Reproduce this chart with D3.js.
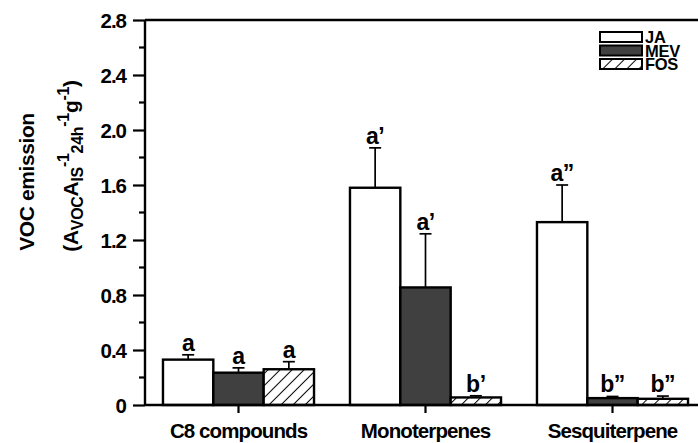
<!DOCTYPE html>
<html>
<head>
<meta charset="utf-8">
<script src="https://cdn.jsdelivr.net/npm/d3@7"></script>
<style>
  html, body { margin: 0; padding: 0; background: #fff; }
  svg { display: block; }
  text { font-family: "Liberation Sans", Arial, sans-serif; font-weight: bold; fill: #000; }
</style>
</head>
<body>
<svg id="chart" width="698" height="443"></svg>
<script>
// Emission groups and treatments
const categories = ["C8 compounds", "Monoterpenes", "Sesquiterpene"];
const treatments = ["JA", "MEV", "FOS"];

// Mean emission per treatment (one value per group)
const jaValues  = [0.33, 1.58, 1.33];
const mevValues = [0.235, 0.855, 0.05];
const fosValues = [0.26, 0.055, 0.045];

// Standard errors (upper half only is drawn)
const jaErrors  = [0.035, 0.29, 0.27];
const mevErrors = [0.035, 0.39, 0.012];
const fosErrors = [0.055, 0.012, 0.02];

// Significance letters
const jaLetters  = ["a", "a\u2019", "a\u201D"];
const mevLetters = ["a", "a\u2019", "b\u201D"];
const fosLetters = ["a", "b\u2019", "b\u201D"];

// Y axis ticks
const yTicks = [0, 0.4, 0.8, 1.2, 1.6, 2.0, 2.4, 2.8];
const yTickLabels = ["0", "0.4", "0.8", "1.2", "1.6", "2.0", "2.4", "2.8"];
const yMinorTicks = [0.2, 0.6, 1.0, 1.4, 1.8, 2.2, 2.6];

const valuesBy  = { JA: jaValues, MEV: mevValues, FOS: fosValues };
const errorsBy  = { JA: jaErrors, MEV: mevErrors, FOS: fosErrors };
const lettersBy = { JA: jaLetters, MEV: mevLetters, FOS: fosLetters };

const rows = [];
categories.forEach((c, i) => {
  treatments.forEach(t => {
    rows.push({ cat: c, trt: t, v: valuesBy[t][i], e: errorsBy[t][i], lab: lettersBy[t][i] });
  });
});

const svg = d3.select("#chart");
const plotLeft = 145, plotTop = 20, plotBottom = 405, plotRight = 706;

const y = d3.scaleLinear().domain([0, 2.8]).range([plotBottom, plotTop]);
const x0 = d3.scaleBand().domain(categories).range([plotLeft, plotRight]).padding(0);
const x1 = d3.scaleBand().domain(treatments).range([0, x0.bandwidth()])
  .paddingInner(0).paddingOuter(0.357);

// Hatch pattern for FOS
const defs = svg.append("defs");
const pat = defs.append("pattern")
  .attr("id", "hatch").attr("patternUnits", "userSpaceOnUse")
  .attr("width", 8.5).attr("height", 8.5)
  .attr("patternTransform", "rotate(45)");
pat.append("rect").attr("width", 8.5).attr("height", 8.5).attr("fill", "#fff");
pat.append("line").attr("x1", 0).attr("y1", 0).attr("x2", 0).attr("y2", 8.5)
  .attr("stroke", "#000").attr("stroke-width", 2);

const fillOf = { JA: "#ffffff", MEV: "#404040", FOS: "url(#hatch)" };

// Bars
const g = svg.append("g");
g.selectAll("rect.bar").data(rows).join("rect")
  .attr("class", "bar")
  .attr("x", d => x0(d.cat) + x1(d.trt))
  .attr("y", d => y(d.v))
  .attr("width", x1.bandwidth())
  .attr("height", d => y(0) - y(d.v))
  .attr("fill", d => fillOf[d.trt])
  .attr("stroke", "#000").attr("stroke-width", 2.4);

// Error bars
const cx = d => x0(d.cat) + x1(d.trt) + x1.bandwidth() / 2;
g.selectAll("line.err").data(rows).join("line")
  .attr("class", "err")
  .attr("x1", cx).attr("x2", cx)
  .attr("y1", d => y(d.v)).attr("y2", d => y(d.v + d.e))
  .attr("stroke", "#000").attr("stroke-width", 1.7);
g.selectAll("line.cap").data(rows).join("line")
  .attr("class", "cap")
  .attr("x1", d => cx(d) - 6).attr("x2", d => cx(d) + 6)
  .attr("y1", d => y(d.v + d.e)).attr("y2", d => y(d.v + d.e))
  .attr("stroke", "#000").attr("stroke-width", 1.7);

// Significance letters
g.selectAll("text.sig").data(rows).join("text")
  .attr("class", "sig")
  .attr("text-anchor", "middle")
  .attr("font-size", 23)
  .attr("letter-spacing", -0.5)
  .attr("x", cx)
  .attr("y", d => y(d.v + d.e) - 4)
  .text(d => d.lab);

// Y axis
const yAxis = d3.axisLeft(y).tickValues(yTicks).tickSize(12)
  .tickFormat((d, i) => yTickLabels[i]).tickPadding(7);
const ya = svg.append("g").attr("transform", `translate(${plotLeft},0)`).call(yAxis);
ya.select(".domain").attr("stroke-width", 2.4).attr("d", `M0,${plotBottom}V${plotTop}`);
ya.selectAll(".tick line").attr("stroke-width", 2.2);
ya.selectAll(".tick text")
  .attr("font-size", 20.5)
  .attr("letter-spacing", -1)
  .attr("font-family", "Liberation Sans, Arial, sans-serif")
  .attr("font-weight", "bold")
  .attr("dy", "0.36em");
ya.selectAll(".minor").data(yMinorTicks).join("line")
  .attr("class", "minor")
  .attr("x1", -6).attr("x2", 0)
  .attr("y1", d => y(d)).attr("y2", d => y(d))
  .attr("stroke", "#000").attr("stroke-width", 2.2);

// X axis
const xAxis = d3.axisBottom(x0).tickSize(8).tickPadding(10);
const xa = svg.append("g").attr("transform", `translate(0,${plotBottom})`).call(xAxis);
xa.select(".domain").attr("stroke-width", 2.4).attr("d", `M${plotLeft},0H${plotRight}`);
xa.selectAll(".tick line").attr("stroke-width", 2.2);
xa.selectAll(".tick text")
  .attr("font-size", 20.5)
  .attr("letter-spacing", -0.9)
  .attr("font-family", "Liberation Sans, Arial, sans-serif")
  .attr("font-weight", "bold")
  .attr("dy", "0.71em");

// Top frame line
svg.append("line")
  .attr("x1", plotLeft).attr("x2", plotRight).attr("y1", plotTop).attr("y2", plotTop)
  .attr("stroke", "#000").attr("stroke-width", 2.4);

// Y title (two lines)
svg.append("text")
  .attr("text-anchor", "middle")
  .attr("font-size", 21)
  .attr("letter-spacing", -0.4)
  .attr("transform", "translate(34,182) rotate(-90)")
  .text("VOC emission");

const t2 = svg.append("text")
  .attr("text-anchor", "middle")
  .attr("font-size", 21)
  .attr("letter-spacing", -0.3)
  .attr("transform", "translate(78,166) rotate(-90)");
const parts = [
  ["(A", 0], ["VOC", 1], ["A", 0], ["IS", 1], ["-1", -1], ["24h", 1], ["-1", -1], ["g", 0], ["-1", -1], [")", 0]
];
const offsetOf = lv => (lv === 1 ? 5 : lv === -1 ? -9 : 0);
let level = 0;
parts.forEach(([s, lv]) => {
  t2.append("tspan").attr("dy", offsetOf(lv) - offsetOf(level))
    .attr("font-size", lv === 0 ? 21 : 16)
    .text(s);
  level = lv;
});

// Legend
const legend = svg.append("g").attr("transform", "translate(600,32)");
treatments.forEach((t, i) => {
  const row = legend.append("g").attr("transform", `translate(0,${i * 13.5})`);
  row.append("rect").attr("width", 42).attr("height", 10)
    .attr("fill", fillOf[t]).attr("stroke", "#000").attr("stroke-width", 2);
  row.append("text")
    .attr("x", 45).attr("y", 11)
    .attr("font-size", 16.5)
    .attr("letter-spacing", -0.3)
    .text(t);
});
</script>
</body>
</html>
